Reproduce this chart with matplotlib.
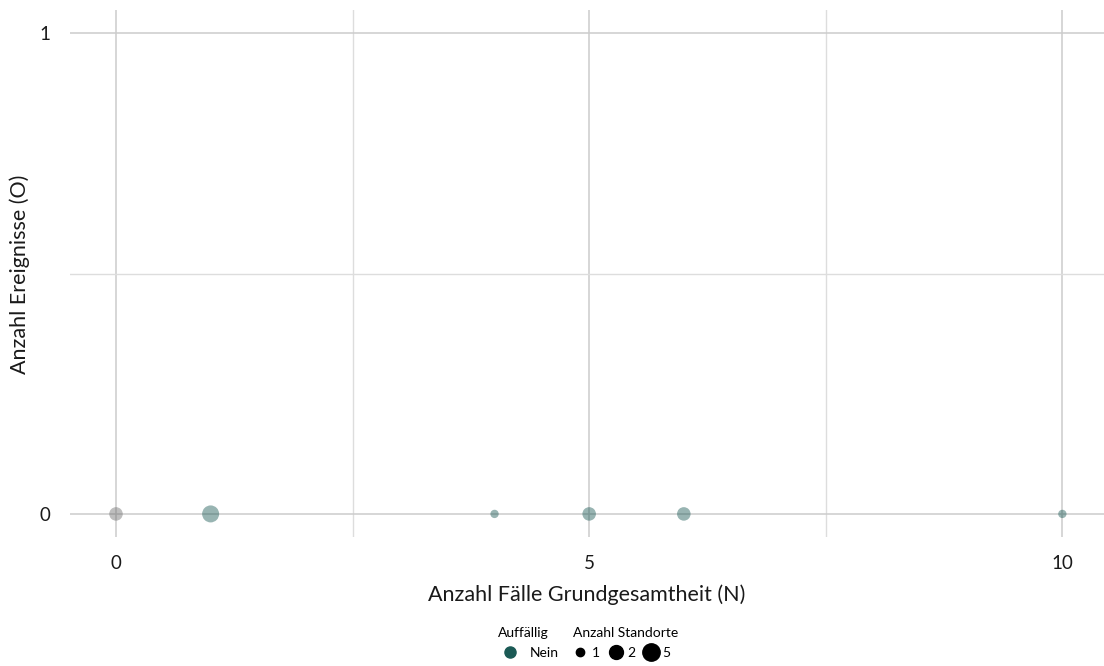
import matplotlib
matplotlib.use("Agg")
import matplotlib.pyplot as plt
from matplotlib.lines import Line2D

plt.rcParams['font.family'] = ['Lato', 'DejaVu Sans']

# data
n_cases = [0, 1, 4, 5, 6, 10]
n_events = [0, 0, 0, 0, 0, 0]
n_sites = [2, 5, 1, 2, 2, 1]
flag = ['grey', 'Nein', 'Nein', 'Nein', 'Nein', 'Nein']

x_ticks = [0, 5, 10]
y_ticks = [0, 1]
size_levels = [1, 2, 5]

teal = '#1b5a55'
grey = '#6f6f6f'

def size_of(n):
    return {1: 36, 2: 95, 5: 150}[n]

fig = plt.figure(figsize=(11.04, 6.66), dpi=100)
ax = fig.add_axes([70/1104, 1-537/666, (1104-70)/1104, (537-10)/666])

for x, y, s, f in zip(n_cases, n_events, n_sites, flag):
    c = grey if f == 'grey' else teal
    ax.scatter([x], [y], s=size_of(s), color=c, alpha=0.45, edgecolors='none', zorder=3)

ax.set_xlim(-0.486, 10.44)
ax.set_ylim(-0.048, 1.048)
ax.set_xticks(x_ticks)
ax.set_xticks([2.5, 7.5], minor=True)
ax.set_yticks(y_ticks)
ax.set_yticks([0.5], minor=True)
ax.grid(which='major', color='#cccccc', linewidth=1.1)
ax.grid(which='minor', color='#dddddd', linewidth=1.0)
ax.set_axisbelow(True)
for sp in ax.spines.values():
    sp.set_visible(False)
ax.tick_params(which='both', length=0, labelsize=13.5, colors='#1a1a1a')
ax.tick_params(axis='x', pad=13)
ax.tick_params(axis='y', pad=14)
ax.set_xlabel('Anzahl Fälle Grundgesamtheit (N)', fontsize=15.5, labelpad=9, color='#1a1a1a')
fig.text(20/1104, 1-274/666, 'Anzahl Ereignisse (O)', rotation=90, ha='center', va='center',
         fontsize=15.5, color='#1a1a1a')

h1 = [Line2D([], [], marker='o', linestyle='none', color=teal, markersize=8)]
leg1 = fig.legend(h1, ['Nein'], title='Auffällig', loc='center', bbox_to_anchor=(528/1104, 1-643/666),
                  frameon=False, fontsize=10, title_fontsize=10, handletextpad=0.5, borderpad=0,
                  handlelength=1.8, labelspacing=0.2)
leg1.set_alignment('left')
leg1._legend_box.sep = 6
h2 = [Line2D([], [], marker='o', linestyle='none', color='black', markersize=m) for m in (6, 10, 12.5)]
leg2 = fig.legend(h2, [str(v) for v in size_levels], title='Anzahl Standorte', loc='center',
                  bbox_to_anchor=(626/1104, 1-643/666), ncol=3, frameon=False, fontsize=10,
                  title_fontsize=10, handletextpad=0.35, columnspacing=0.6, borderpad=0,
                  handlelength=1.0)
leg2.set_alignment('left')
leg2._legend_box.sep = 6

fig.savefig('out.png', dpi=100)
